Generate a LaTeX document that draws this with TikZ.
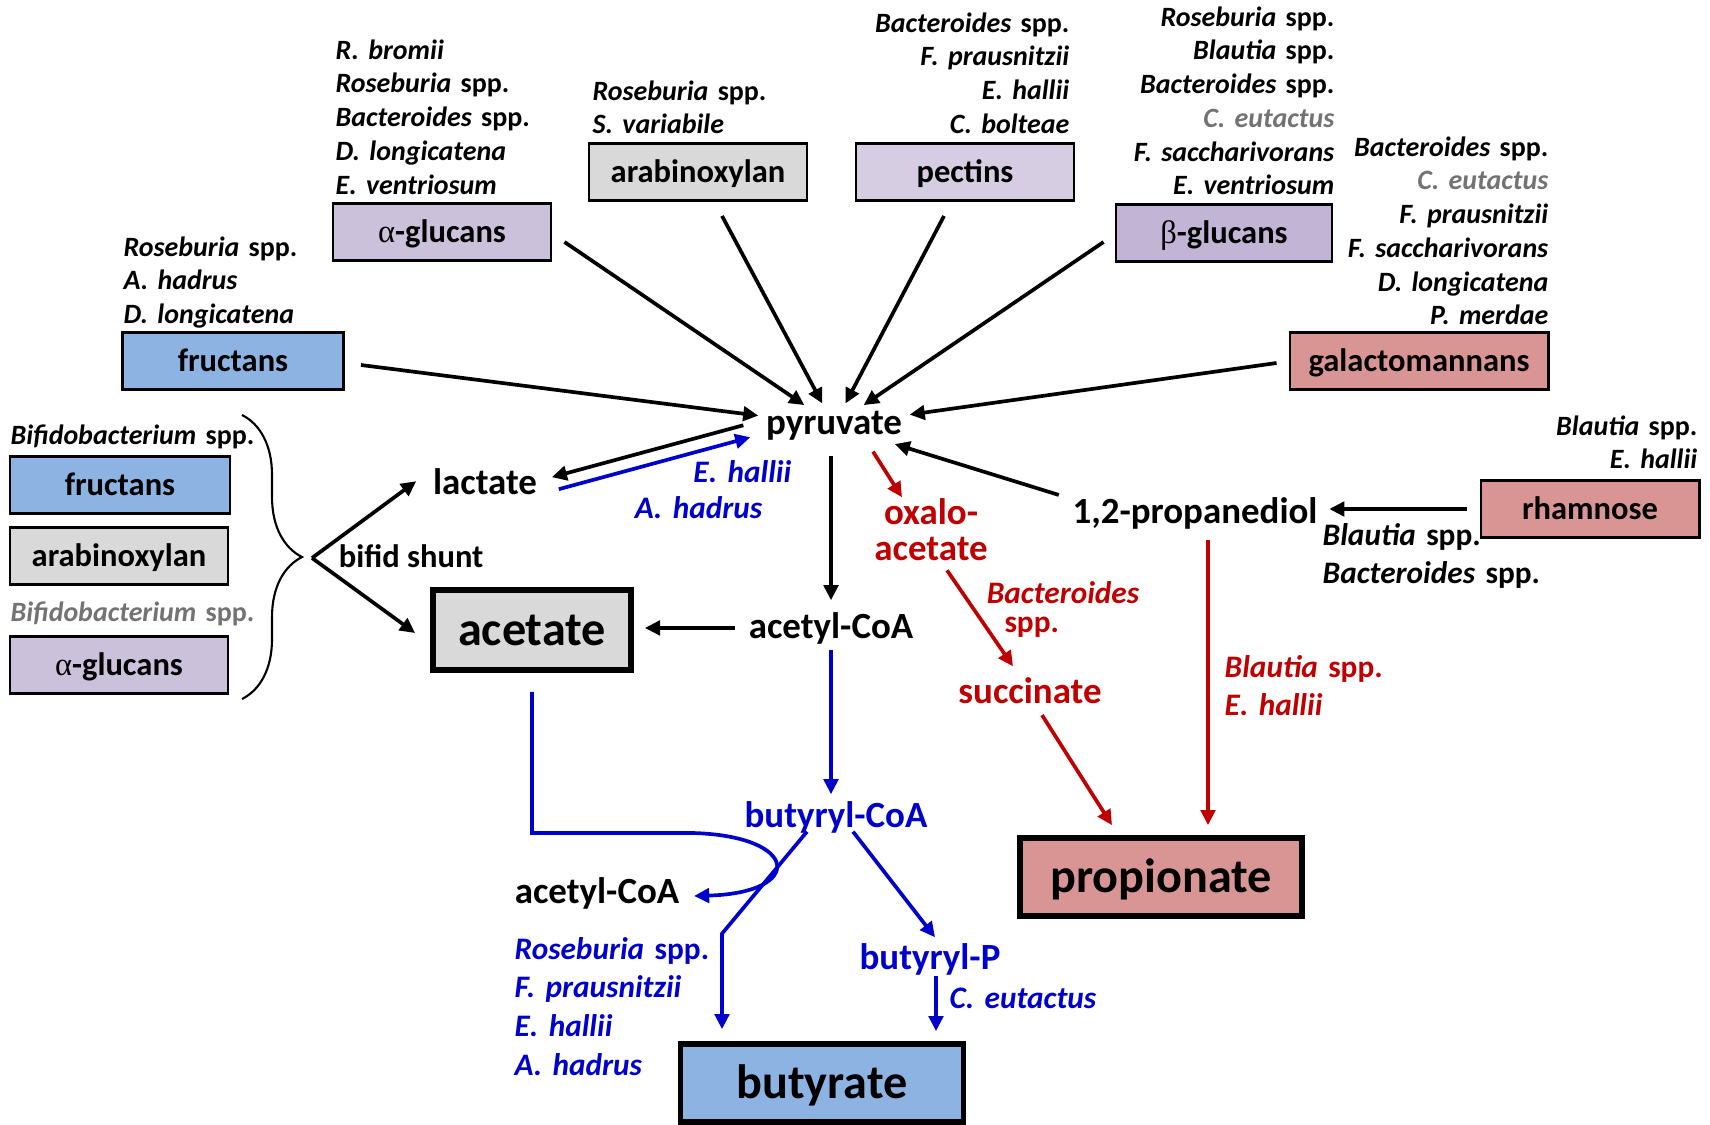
\documentclass[tikz,border=0pt]{standalone}
\usepackage{fontspec}
\setmainfont{Carlito}
\newfontfamily\greekfont{Liberation Serif}
\usepackage{xcolor}
\usepackage{tikz}
\usetikzlibrary{arrows.meta,calc,decorations.pathreplacing}
\definecolor{fructblue}{HTML}{8DB3E2}
\definecolor{axgray}{HTML}{D9D9D9}
\definecolor{aglucpurple}{HTML}{CCC1DA}
\definecolor{pectpurple}{HTML}{D6CDE2}
\definecolor{bglucpurple}{HTML}{C2B4D5}
\definecolor{pinkbox}{HTML}{D99594}
\definecolor{pathblue}{HTML}{0000CC}
\definecolor{pathred}{HTML}{C00000}
\definecolor{spgray}{HTML}{737373}
\newcommand{\spfont}{\fontsize{7.95}{9.6}\selectfont\bfseries}
\newcommand{\pathspfont}{\fontsize{8.9}{11}\selectfont\bfseries}
\newcommand{\boxfont}{\fontsize{9.25}{11}\selectfont\bfseries}
\newcommand{\midfont}{\fontsize{10.5}{10.3}\selectfont\bfseries}
\newcommand{\prodfont}{\fontsize{13.7}{16}\selectfont\bfseries}
\newcommand{\genus}[1]{\textit{#1} spp.}
\newcommand{\grk}[1]{{\greekfont\mdseries #1}}
\tikzset{
  sugar/.style={draw, line width=0.8pt, minimum height=0.57cm, inner sep=0pt, text height=6.5pt, text depth=0.5pt, font=\boxfont},
  product/.style={draw, line width=1.6pt, inner sep=0pt, text height=9.8pt, text depth=1pt, font=\prodfont},
  metab/.style={inner sep=0.6pt, anchor=base, font=\midfont},
  species/.style={inner sep=0pt, text width=2.5cm, font=\spfont},
  conv/.style={-{Triangle[length=4.3pt,width=4.1pt]}, line width=1.05pt},
  bluepath/.style={conv, pathblue},
  redpath/.style={conv, pathred}
}

\begin{document}
\begin{tikzpicture}[x=0.01cm,y=-0.01cm]
\useasboundingbox (0,0) rectangle (1710,1124);

\node[sugar, fill=aglucpurple, minimum width=2.18cm] (agluc) at (442,232) {\grk{α}-glucans};
\node[sugar, fill=axgray, minimum width=2.18cm] (arabx) at (698,172) {arabinoxylan};
\node[sugar, fill=pectpurple, minimum width=2.18cm] (pect) at (965,172) {pectins};
\node[sugar, fill=bglucpurple, minimum width=2.16cm] (bgluc) at (1224,233) {\grk{β}-glucans};
\node[sugar, fill=fructblue, minimum width=2.21cm] (fruc) at (233,361) {fructans};
\node[sugar, fill=pinkbox, minimum width=2.58cm] (galm) at (1419,361) {galactomannans};
\node[sugar, fill=pinkbox, minimum width=2.18cm] (rham) at (1590,509) {rhamnose};
\node[sugar, fill=fructblue, minimum width=2.2cm] (lfruc) at (120,485) {fructans};
\node[sugar, fill=axgray, minimum width=2.18cm] (larabx) at (119,556) {arabinoxylan};
\node[sugar, fill=aglucpurple, minimum width=2.18cm] (lagluc) at (119,665) {\grk{α}-glucans};

\node[product, fill=axgray, minimum width=1.98cm, minimum height=0.8cm] (acet) at (532,630) {acetate};
\node[product, fill=pinkbox, minimum width=2.82cm, minimum height=0.78cm] (prop) at (1161,877) {propionate};
\node[product, fill=fructblue, minimum width=2.83cm, minimum height=0.78cm] (buty) at (822,1083) {butyrate};

\node[metab] (pyr) at (834,434) {pyruvate};
\node[metab] (lact) at (485,494) {lactate};
\node[metab] (acoa) at (831,638) {acetyl-CoA};
\node[metab, text=pathred, text width=2cm, align=center] (oxal) at (931,524) {oxalo-\\acetate};
\node[metab] (pdiol) at (1195,523) {1,2-propanediol};
\node[metab, text=pathred] (succ) at (1030,703) {succinate};
\node[metab, text=pathblue] (bcoa) at (836,827) {butyryl-CoA};
\node[metab] (acoa2) at (597,903) {acetyl-CoA};
\node[metab, text=pathblue] (bp) at (930,969) {butyryl-P};
\node[metab, font=\boxfont, anchor=base west] (shuntlbl) at (336,567) {bifid shunt};

\node[species, anchor=base west, align=left] (spagluc) at (335,59) {\textit{R. bromii}\\\genus{Roseburia}\\\genus{Bacteroides}\\\textit{D. longicatena}\\\textit{E. ventriosum}};
\node[species, anchor=base west, align=left] (sparabx) at (592,100) {\genus{Roseburia}\\\textit{S. variabile}};
\node[species, anchor=base east, align=right] (sppect) at (1070,32) {\genus{Bacteroides}\\\textit{F. prausnitzii}\\\textit{E. hallii}\\\textit{C. bolteae}};
\node[species, anchor=base east, align=right] (spbgluc) at (1335,26) {\genus{Roseburia}\\\genus{Blautia}\\\genus{Bacteroides}\\\textcolor{spgray}{\textit{C. eutactus}}\\\textit{F. saccharivorans}\\\textit{E. ventriosum}};
\node[species, anchor=base east, align=right] (spgalm) at (1549,156) {\genus{Bacteroides}\\\textcolor{spgray}{\textit{C. eutactus}}\\\textit{F. prausnitzii}\\\textit{F. saccharivorans}\\\textit{D. longicatena}\\\textit{P. merdae}};
\node[species, anchor=base west, align=left] (spfruc) at (123,256) {\genus{Roseburia}\\\textit{A. hadrus}\\\textit{D. longicatena}};
\node[species, anchor=base east, align=right] (sprham) at (1698,435) {\genus{Blautia}\\\textit{E. hallii}};
\node[species, anchor=base west, align=left, font=\pathspfont] (sppdiol) at (1322,545) {\genus{Blautia}\\\genus{Bacteroides}};
\node[species, anchor=base west, align=left] (spbifa) at (10,444) {\genus{Bifidobacterium}};
\node[species, anchor=base west, align=left, text=spgray] (spbifb) at (10,621) {\genus{Bifidobacterium}};
\node[species, anchor=base east, align=right, text=pathblue, font=\pathspfont] (sphallii) at (792,482) {\textit{E. hallii}};
\node[species, anchor=base east, align=right, text=pathblue, font=\pathspfont] (sphadrus) at (763,518) {\textit{A. hadrus}};
\node[species, anchor=base, align=center, text=pathred, font=\pathspfont] (spbact) at (1063,603) {\textit{Bacteroides}\\[-2.7pt]spp.\hspace*{2em}};
\node[species, anchor=base west, align=left, text=pathred, font=\pathspfont] (spblautia) at (1224,677) {\genus{Blautia}\\\textit{E. hallii}};
\node[species, anchor=base west, align=left, text=pathblue, font=\pathspfont] (spbuty) at (514,959) {\genus{Roseburia}\\\textit{F. prausnitzii}\\\textit{E. hallii}\\\textit{A. hadrus}};
\node[species, anchor=base west, align=left, text=pathblue, font=\pathspfont] (spceut) at (949,1008) {\textit{C. eutactus}};

\draw[conv, shorten >=0.5mm] ($(fruc.east)+(16,4)$) -- (pyr);
\draw[conv, shorten >=0.5mm] ($(agluc.east)+(12,10)$) -- (pyr);
\draw[conv, shorten >=0.5mm] ($(arabx.south)+(24,14)$) -- (pyr);
\draw[conv, shorten >=0.5mm] ($(pect.south)+(-21,14)$) -- (pyr);
\draw[conv, shorten >=0.5mm] ($(bgluc.west)+(-11,9)$) -- (pyr);
\draw[conv, shorten >=0.5mm] ($(galm.west)+(-12,2)$) -- (pyr);
\draw[conv, shorten >=0.5mm] ($(pdiol.west)+(-11,-18)$) -- (pyr);
\draw[conv, shorten <=1.3mm, shorten >=0.9mm] (rham.west) -- (rham.west -| pdiol.east);
\draw[conv] ($(pyr.west)+(-20,0)$) -- ($(lact.east)+(12,-4)$);
\draw[bluepath] ($(lact.east)+(19,8)$) -- ($(pyr.west)+(-13,12)$);

\coordinate (fork) at (312,558);
\draw[line width=0.6pt, decorate, decoration={brace, amplitude=0.6cm}] (242,415) -- (242,699);
\draw[conv] (fork) -- ($(lact.west)+(-14,0)$);
\draw[conv] (fork) -- ($(acet.west)+(-15,3)$);

\draw[conv, shorten <=1.3mm, shorten >=0.9mm] (pyr.south -| acoa) -- (acoa.north);
\draw[conv, shorten <=1.1mm, shorten >=1.1mm] (acoa.west) -- (acoa.west -| acet.east);
\draw[redpath] ($(pyr.south)+(39,9)$) -- ($(oxal.north)+(-29,2)$);
\draw[redpath] ($(oxal.south)+(16,7)$) -- ($(succ.north)+(-17,-8)$);
\draw[redpath] ($(succ.south)+(12,9)$) -- ($(prop.north)+(-49,-10)$);
\draw[redpath] ($(pdiol.south)+(13,8)$) -- ($(prop.north)+(47,-10)$);

\draw[bluepath, shorten <=0.3mm, shorten >=0.4mm] (acoa.south) -- (acoa.south |- bcoa.north);
\draw[bluepath] ($(acet.south)+(0,19)$) |- (693,833) .. controls (800,836) and (805,893) .. ($(acoa2.east)+(12,3)$);
\draw[bluepath] ($(bcoa.south)+(-29,-4)$) -- ++(-85,102) -- ($(buty.north)+(-100,-12)$);
\draw[bluepath] ($(bcoa.south)+(17,-4)$) -- ($(bp.north)+(5,-3)$);
\draw[bluepath] ($(bp.south)+(6,-2)$) -- ($(buty.north)+(114,-10)$);
\end{tikzpicture}
\end{document}
